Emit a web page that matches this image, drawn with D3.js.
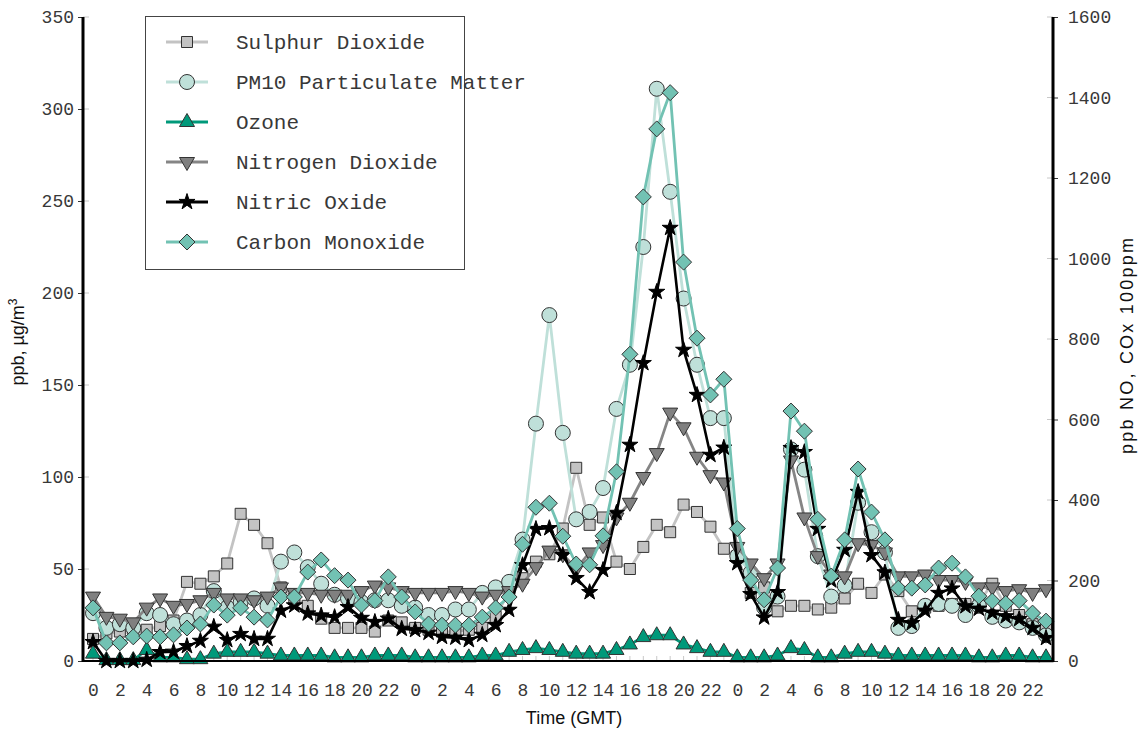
<!DOCTYPE html>
<html>
<head>
<meta charset="utf-8">
<script src="https://cdn.jsdelivr.net/npm/d3@7"></script>
<style>
  html, body { margin: 0; padding: 0; background: #fff; }
  svg { display: block; }
</style>
</head>
<body>
<svg id="chart" width="1139" height="731"></svg>
<script>
// Hours of the day, repeated over three days
const hoursOfDay = [0,1,2,3,4,5,6,7,8,9,10,11,12,13,14,15,16,17,18,19,20,21,22,23];
const dayCount = 3;
const hourTickLabels = [0,2,4,6,8,10,12,14,16,18,20,22];
const leftTicks = [0,50,100,150,200,250,300,350];
const rightTicks = [0,200,400,600,800,1000,1200,1400,1600];

// Left axis series (ppb, µg/m3)
const sulphurDioxide = [12,15,16,15,17,19,22,43,42,46,53,80,74,64,40,34,30,23,18,18,18,16,22,21,
                        18,17,16,16,17,18,24,38,45,54,58,72,105,74,78,54,50,62,74,70,85,81,73,61,
                        57,37,40,27,30,30,28,29,34,42,37,47,38,27,29,30,31,31,32,42,30,25,20,18];
const pm10 = [26,18,20,18,26,25,20,22,25,38,29,32,34,30,54,59,51,42,36,34,32,33,33,30,
              29,25,25,28,28,37,40,43,66,129,188,124,77,81,94,137,161,225,311,255,197,161,132,132,
              57,48,29,35,115,104,57,35,41,86,70,59,18,19,30,31,30,25,30,24,22,21,18,14];
const ozone = [4,0.5,0.5,0.5,6,2,2,1,1,4,5,5,5,4,3,3,3,3,2,2,2,3,3,3,
               2,2,2,2,2,3,3,5,6,7,6,5,4,4,4,6,9,13,14,14,9,7,5,5,
               2,2,2,3,7,6,2,2,4,5,5,4,3,3,3,3,3,3,2,2,3,3,2,2];
const nitrogenDioxide = [35,24,23,21,29,34,30,31,33,37,34,34,33,35,40,37,37,36,36,36,38,41,40,38,
                         37,37,37,38,37,35,36,38,42,51,60,58,50,59,63,78,86,100,113,135,127,111,101,97,
                         62,53,45,53,109,78,57,47,46,64,63,59,46,46,47,44,44,43,40,40,38,39,37,39];
// Right axis series (ppb NO, CO x 100ppm)
const nitricOxide = [47,0,0,0,3,22,23,37,50,85,52,67,55,55,125,138,118,113,109,134,107,97,105,80,
                     77,70,60,58,52,65,89,127,238,328,330,263,206,171,226,368,537,740,917,1076,773,661,512,530,
                     243,166,108,171,529,519,328,200,276,420,263,220,102,94,125,169,180,136,130,120,111,104,82,57];
const carbonMonoxide = [132,45,45,60,62,60,65,82,92,139,114,132,109,102,159,159,221,251,212,201,139,150,209,159,
                        122,92,89,89,89,109,132,159,290,382,392,310,241,239,311,470,762,1153,1322,1412,991,802,661,700,
                        329,201,152,231,621,571,352,211,301,477,370,301,181,181,189,231,243,209,161,149,143,150,119,99];

const seriesNames = ["Sulphur Dioxide","PM10 Particulate Matter","Ozone","Nitrogen Dioxide","Nitric Oxide","Carbon Monoxide"];
const seriesValues = [sulphurDioxide, pm10, ozone, nitrogenDioxide, nitricOxide, carbonMonoxide];
const seriesAxis = ["left","left","left","left","right","right"];
const lineColors = ["#c3c3c3","#bfe0d9","#00997a","#858585","#000000","#72c2b3"];
const markerFills = ["#c3c3c3","#bfe0d9","#00997a","#808080","#000000","#72c2b3"];
const markerShapes = ["square","circle","triangleUp","triangleDown","star","diamond"];

const svg = d3.select("#chart");
const plotLeft = 83, plotRight = 1053, plotTop = 17, plotBottom = 661;

const times = [];
for (let d = 0; d < dayCount; d++) hoursOfDay.forEach(h => times.push(d * 24 + h));

const x = d3.scaleLinear().domain([0, times.length - 1]).range([93, 1046]);
const yL = d3.scaleLinear().domain([0, 350]).range([plotBottom, plotTop]);
const yR = d3.scaleLinear().domain([0, 1600]).range([plotBottom, plotTop]);

const shapePaths = {
  square: "M-5.5,-5.5h11v11h-11Z",
  triangleUp: "M0,-8.5L7.5,4.5L-7.5,4.5Z",
  triangleDown: "M0,8.5L7.5,-4.5L-7.5,-4.5Z",
  diamond: "M0,-8L8,0L0,8L-8,0Z",
  star: d3.symbol(d3.symbolStar, 80)()
};

function drawMarker(g, shape, fill) {
  if (shape === "circle") {
    g.append("circle").attr("r", 7.5).attr("fill", fill).attr("stroke", "#333").attr("stroke-width", 1);
  } else {
    g.append("path").attr("d", shapePaths[shape]).attr("fill", fill)
      .attr("stroke", shape === "star" ? "#000" : "#333").attr("stroke-width", 1);
  }
}

// Inner light ticks
const innerTicks = svg.append("g").attr("stroke", "#c8c8c8").attr("stroke-width", 1);
times.forEach(t => innerTicks.append("line").attr("x1", x(t)).attr("x2", x(t)).attr("y1", plotBottom).attr("y2", plotBottom - 5));
leftTicks.forEach(v => innerTicks.append("line").attr("x1", plotLeft).attr("x2", plotLeft + 6).attr("y1", yL(v)).attr("y2", yL(v)));
rightTicks.forEach(v => innerTicks.append("line").attr("x1", plotRight).attr("x2", plotRight - 6).attr("y1", yR(v)).attr("y2", yR(v)));

// Series
seriesValues.forEach((vals, si) => {
  const ys = seriesAxis[si] === "left" ? yL : yR;
  const g = svg.append("g");
  const line = d3.line().x((d, i) => x(times[i])).y(d => ys(d));
  g.append("path").datum(vals).attr("d", line).attr("fill", "none")
    .attr("stroke", lineColors[si]).attr("stroke-width", si === 4 ? 2.6 : 2.8)
    .attr("stroke-linejoin", "round");
  vals.forEach((v, i) => {
    const m = g.append("g").attr("transform", `translate(${x(times[i])},${ys(v)})`);
    drawMarker(m, markerShapes[si], markerFills[si]);
  });
});

// Axes
const tickFont = "'Courier New', 'Liberation Mono', monospace";
const leftAxis = svg.append("g").attr("transform", `translate(${plotLeft},0)`)
  .call(d3.axisLeft(yL).tickValues(leftTicks).tickFormat(d3.format("d")).tickSize(5).tickPadding(4));
const rightAxis = svg.append("g").attr("transform", `translate(${plotRight},0)`)
  .call(d3.axisRight(yR).tickValues(rightTicks).tickFormat(d3.format("d")).tickSize(5).tickPadding(10));
const bottomAxis = svg.append("g").attr("transform", `translate(0,${plotBottom})`)
  .call(d3.axisBottom(x).tickValues(times.filter(t => hourTickLabels.includes(t % 24)))
        .tickFormat(t => String(hoursOfDay[t % 24])).tickSize(0).tickPadding(20));

[leftAxis, rightAxis, bottomAxis].forEach(a => {
  a.select(".domain").remove();
  a.selectAll("text").attr("font-family", tickFont).attr("font-size", 18).attr("fill", "#383838");
  a.selectAll(".tick line").attr("stroke", "#333");
});
bottomAxis.selectAll("text").attr("dy", "0.35em").attr("y", 29);

svg.append("line").attr("x1", plotLeft).attr("x2", plotRight).attr("y1", plotBottom).attr("y2", plotBottom)
  .attr("stroke", "#000").attr("stroke-width", 2);
svg.append("line").attr("x1", plotLeft).attr("x2", plotLeft).attr("y1", plotTop).attr("y2", plotBottom + 1)
  .attr("stroke", "#000").attr("stroke-width", 3);
svg.append("line").attr("x1", plotRight).attr("x2", plotRight).attr("y1", plotTop).attr("y2", plotBottom + 1)
  .attr("stroke", "#000").attr("stroke-width", 3);

// Axis titles
const titleFont = "'Liberation Sans', Arial, sans-serif";
const lt = svg.append("text").attr("transform", "translate(24,342) rotate(-90)")
  .attr("text-anchor", "middle").attr("font-family", titleFont).attr("font-size", 18).attr("fill", "#111");
lt.append("tspan").text("ppb, µg/m");
lt.append("tspan").attr("font-size", 12).attr("dy", -7).text("3");
svg.append("text").attr("transform", "translate(1133,346) rotate(-90)")
  .attr("text-anchor", "middle").attr("font-family", titleFont).attr("font-size", 18).attr("fill", "#111")
  .attr("textLength", 216).attr("lengthAdjust", "spacing")
  .text("ppb NO, COx 100ppm");
svg.append("text").attr("x", 574).attr("y", 724).attr("text-anchor", "middle")
  .attr("font-family", titleFont).attr("font-size", 18).attr("fill", "#111").text("Time (GMT)");

// Legend
const legend = svg.append("g");
legend.append("rect").attr("x", 145.5).attr("y", 16.5).attr("width", 319).attr("height", 253)
  .attr("fill", "#fff").attr("stroke", "#444").attr("stroke-width", 1);
seriesNames.forEach((name, si) => {
  const yy = 42 + si * 40;
  legend.append("line").attr("x1", 166).attr("x2", 208).attr("y1", yy).attr("y2", yy)
    .attr("stroke", lineColors[si]).attr("stroke-width", 2.8);
  const m = legend.append("g").attr("transform", `translate(187,${yy})`);
  drawMarker(m, markerShapes[si], markerFills[si]);
  legend.append("text").attr("x", 236).attr("y", yy).attr("dy", "0.35em")
    .attr("font-family", tickFont).attr("font-size", 21).attr("fill", "#383838").text(name);
});
</script>
</body>
</html>
